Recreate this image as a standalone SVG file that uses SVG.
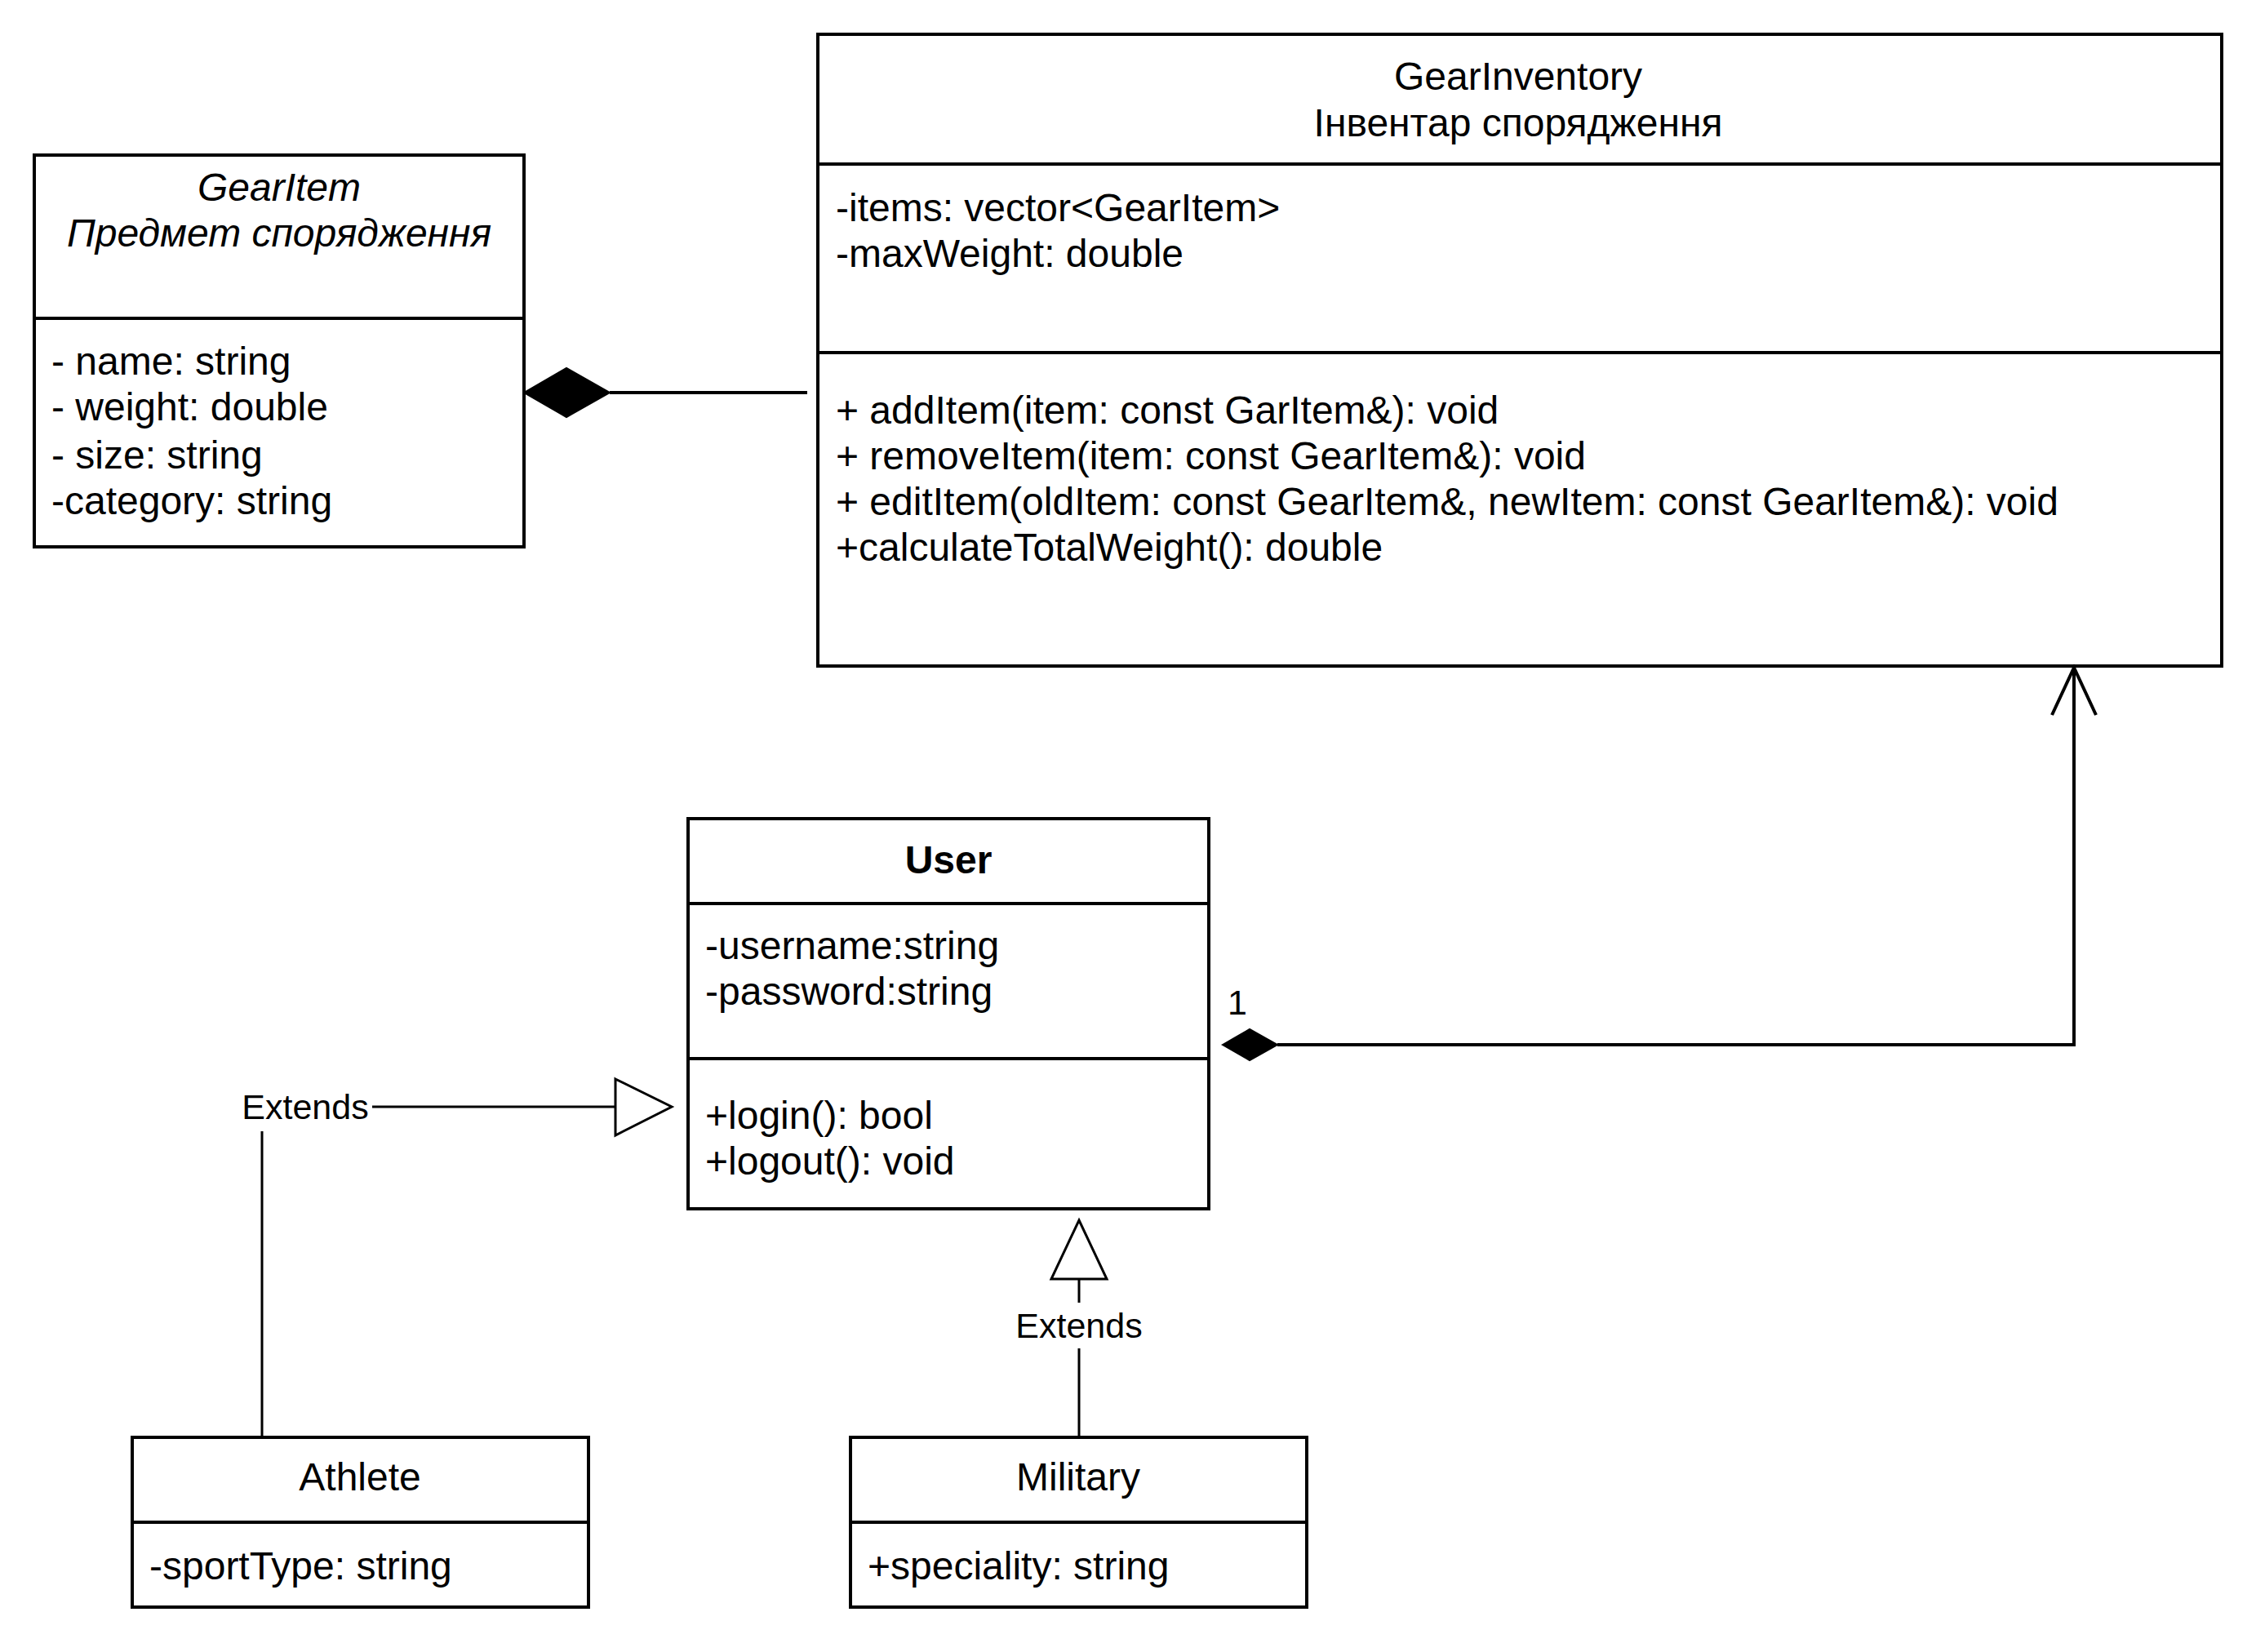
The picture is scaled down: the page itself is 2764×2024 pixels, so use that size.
<svg xmlns="http://www.w3.org/2000/svg" width="2764" height="2024" viewBox="0 0 2764 2024">
<style>
.box{fill:#fff;stroke:#000;stroke-width:4}
.div{stroke:#000;stroke-width:4}
text{font-family:"Liberation Sans",Arial,sans-serif;font-size:48px;fill:#000}
.c{text-anchor:middle}
.it{font-style:italic}
.b{font-weight:bold}
.lbl{font-size:43px}
.edge{fill:none;stroke:#000;stroke-width:4}
.ext{fill:none;stroke:#000;stroke-width:3}
</style>
<rect width="2764" height="2024" fill="#fff"/>
<g id="GearItem">
<rect class="box" x="42" y="190" width="600" height="480"/>
<line class="div" x1="42" y1="390" x2="642" y2="390"/>
<text class="c it" x="342" y="246">GearItem</text>
<text class="c it" x="342" y="302">Предмет спорядження</text>
<text x="63" y="459">- name: string</text>
<text x="63" y="515">- weight: double</text>
<text x="63" y="574">- size: string</text>
<text x="63" y="630">-category: string</text>
</g>
<g id="GearInventory">
<rect class="box" x="1002" y="42" width="1720" height="774"/>
<line class="div" x1="1002" y1="201" x2="2722" y2="201"/>
<line class="div" x1="1002" y1="432" x2="2722" y2="432"/>
<text class="c" x="1860" y="110">GearInventory</text>
<text class="c" x="1860" y="167">Інвентар спорядження</text>
<text x="1024" y="271">-items: vector&lt;GearItem&gt;</text>
<text x="1024" y="327">-maxWeight: double</text>
<text x="1024" y="519">+ addItem(item: const GarItem&amp;): void</text>
<text x="1024" y="575">+ removeItem(item: const GearItem&amp;): void</text>
<text x="1024" y="631">+ editItem(oldItem: const GearItem&amp;, newItem: const GearItem&amp;): void</text>
<text x="1024" y="687">+calculateTotalWeight(): double</text>
</g>
<g id="User">
<rect class="box" x="843" y="1003" width="638" height="478"/>
<line class="div" x1="843" y1="1107" x2="1481" y2="1107"/>
<line class="div" x1="843" y1="1297" x2="1481" y2="1297"/>
<text class="c b" x="1162" y="1070">User</text>
<text x="864" y="1175">-username:string</text>
<text x="864" y="1231">-password:string</text>
<text x="864" y="1383">+login(): bool</text>
<text x="864" y="1439">+logout(): void</text>
</g>
<g id="Athlete">
<rect class="box" x="162" y="1761" width="559" height="208"/>
<line class="div" x1="162" y1="1865" x2="721" y2="1865"/>
<text class="c" x="441" y="1826">Athlete</text>
<text x="183" y="1935">-sportType: string</text>
</g>
<g id="Military">
<rect class="box" x="1042" y="1761" width="559" height="208"/>
<line class="div" x1="1042" y1="1865" x2="1601" y2="1865"/>
<text class="c" x="1321" y="1826">Military</text>
<text x="1063" y="1935">+speciality: string</text>
</g>
<g id="connectors">
<g id="edge-inventory-item">
<line class="edge" x1="747" y1="481" x2="989" y2="481"/>
<path d="M642 481 L694 451 L747 481 L694 511 Z" fill="#000" stroke="#000" stroke-width="2"/>
</g>
<g id="edge-user-inventory">
<path class="edge" d="M1565 1280 H2541 V818"/>
<path class="edge" d="M2514 876 L2541 818 L2568 876"/>
<path d="M1498 1280 L1531 1261 L1565 1280 L1531 1299 Z" fill="#000" stroke="#000" stroke-width="2"/>
<text class="lbl" x="1516" y="1243" text-anchor="middle">1</text>
</g>
<g id="edge-athlete-user">
<path class="ext" d="M321 1761 V1356 H754"/>
<path d="M754 1322 L823 1356 L754 1391 Z" fill="#fff" stroke="#000" stroke-width="3"/>
<rect x="292" y="1330" width="164" height="56" fill="#fff"/>
<text class="lbl c" x="374" y="1371">Extends</text>
</g>
<g id="edge-military-user">
<line class="ext" x1="1322" y1="1761" x2="1322" y2="1567"/>
<path d="M1322 1495 L1356 1567 L1288 1567 Z" fill="#fff" stroke="#000" stroke-width="3"/>
<rect x="1238" y="1596" width="168" height="56" fill="#fff"/>
<text class="lbl c" x="1322" y="1639">Extends</text>
</g>
</g>
</svg>
